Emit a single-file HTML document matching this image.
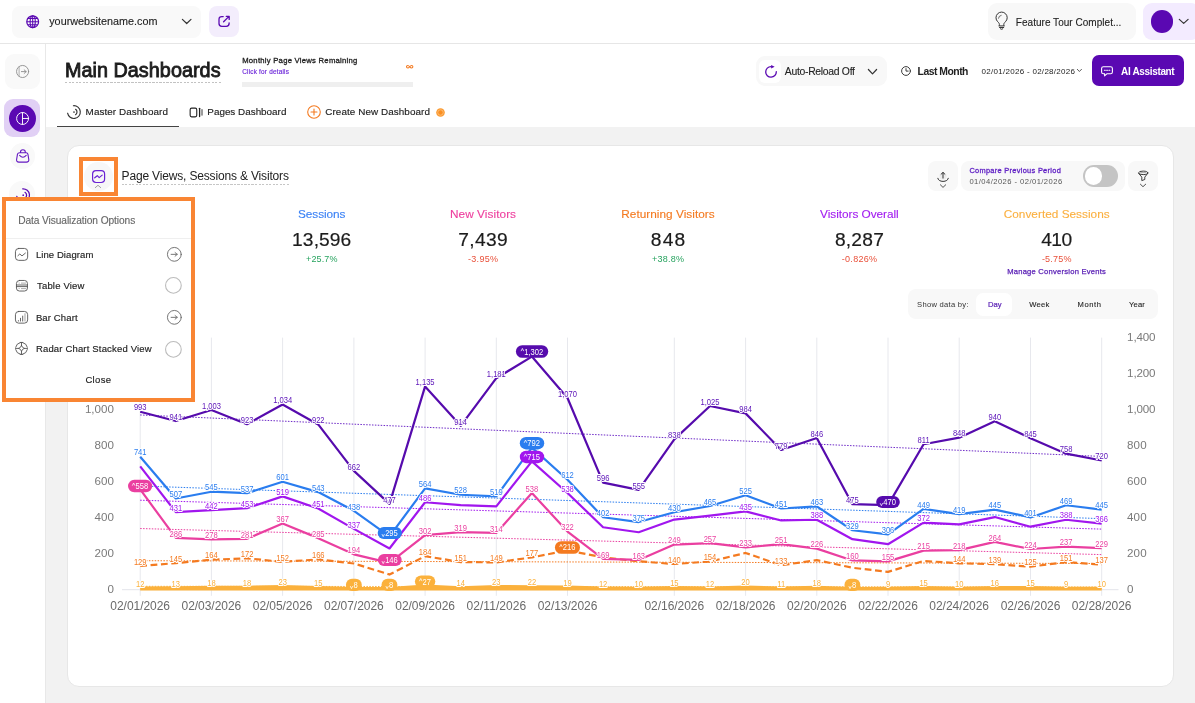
<!DOCTYPE html>
<html><head><meta charset="utf-8"><title>Main Dashboards</title>
<style>
html,body{margin:0;padding:0;}
body{width:1195px;height:703px;overflow:hidden;background:#fff;position:relative;font-family:"Liberation Sans",sans-serif;}
.t{position:absolute;white-space:nowrap;margin:0;padding:0;}
.b{position:absolute;box-sizing:border-box;}
svg{overflow:visible;}
svg text{font-family:"Liberation Sans",sans-serif;}
#root{position:absolute;left:0;top:0;width:1195px;height:703px;overflow:hidden;will-change:transform;}
</style></head><body><div id="root">
<div class="b" style="left:46.20px;top:127.10px;width:1148.80px;height:575.90px;background:#f2f2f2;border-radius:0px;"></div>
<div class="b" style="left:0.00px;top:43.30px;width:1195.00px;height:1.00px;background:#e6e6e6;border-radius:0px;"></div>
<div class="b" style="left:45.20px;top:44.00px;width:1.00px;height:659.00px;background:#e8e8e8;border-radius:0px;"></div>
<div class="b" style="left:11.70px;top:5.70px;width:189.20px;height:32.60px;background:#f9f9f9;border-radius:8px;"></div>
<svg class="b" style="left:25.80px;top:14.80px;" width="13.4" height="13.4" viewBox="0 0 13.4 13.4" fill="none"><g stroke="#5a08b2" stroke-width="1.25"><circle cx="6.7" cy="6.7" r="5.9"/><ellipse cx="6.7" cy="6.7" rx="2.6" ry="5.9" stroke-width="1.1"/><path d="M0.8 6.7H12.6M6.7 0.8V12.6M1.8 3.6H11.6M1.8 9.8H11.6" stroke-width="1.05"/></g></svg>
<div class="t" style="left:49.20px;top:13px;font-size:10.8px;line-height:16px;height:16px;color:#222;letter-spacing:0.019px;-webkit-text-stroke:0.12px #222;">yourwebsitename.com</div>
<svg class="b" style="left:181.90px;top:19.10px;" width="9.4" height="5" viewBox="0 0 9.4 5" fill="none"><path d="M0.4 0.4L4.7 4.5L9 0.4" stroke="#333" stroke-width="1.2" stroke-linecap="round" stroke-linejoin="round"/></svg>
<div class="b" style="left:209.00px;top:6.40px;width:30.10px;height:30.30px;background:#f3edfc;border-radius:8px;"></div>
<svg class="b" style="left:218.00px;top:15.00px;" width="12.5" height="12.5" viewBox="0 0 12.5 12.5" fill="none"><g stroke="#5a08b2" stroke-width="1.3" stroke-linecap="round" stroke-linejoin="round"><path d="M5.2 1.6H3.8Q1 1.6 1 4.4V8.6Q1 11.4 3.8 11.4H8.3Q11.1 11.4 11.1 8.6V7.8"/><path d="M5.6 6.8L11 1.4M8.3 1.4H11.2V4.4"/></g></svg>
<div class="b" style="left:987.50px;top:2.80px;width:148.50px;height:37.60px;background:#f8f8f8;border-radius:9px;"></div>
<svg class="b" style="left:995.30px;top:12.30px;" width="13.2" height="18" viewBox="0 0 13.2 18" fill="none"><g stroke="#333" stroke-width="1" stroke-linecap="round" stroke-linejoin="round"><path d="M4.4 13.4V12.6C4.4 11.2 3.5 10.5 2.7 9.7A5.6 5.6 0 1 1 10.5 9.7C9.7 10.5 8.8 11.2 8.8 12.6V13.4"/><path d="M3.9 13.9H9.3M4.5 15.5H8.7M5.4 16.9A1.6 1.2 0 0 0 7.8 16.9"/><path d="M3.5 6.2A3.2 3.2 0 0 1 6.2 3.3" stroke-width="0.7"/></g></svg>
<div class="t" style="left:1015.80px;top:15px;font-size:10px;line-height:15px;height:15px;color:#222;letter-spacing:0.033px;-webkit-text-stroke:0.1px #222;">Feature Tour Complet...</div>
<div class="b" style="left:1142.80px;top:2.80px;width:57.20px;height:37.60px;background:#f3ebff;border-radius:9px;"></div>
<div class="b" style="left:1150.7px;top:10px;width:22.6px;height:22.6px;border-radius:50%;background:#5a08b2"></div>
<svg class="b" style="left:1178.60px;top:19.20px;" width="9.4" height="5" viewBox="0 0 9.4 5" fill="none"><path d="M0.3 0.4L4.7 4.4L9.1 0.4" stroke="#333" stroke-width="1.2" stroke-linecap="round" stroke-linejoin="round"/></svg>
<div class="b" style="left:5.10px;top:54.10px;width:34.80px;height:34.70px;background:#f9f9f9;border-radius:9px;"></div>
<svg class="b" style="left:15.80px;top:64.90px;" width="13.2" height="13" viewBox="0 0 13.2 13" fill="none"><g stroke="#8c8c8c" stroke-width="0.9" stroke-linecap="round" stroke-linejoin="round"><circle cx="6.6" cy="6.5" r="6.05"/><path d="M3.1 1.6V11.4" stroke="#a5a5a5"/><path d="M5.4 6.6H10.1M8.2 4.9L10.2 6.6L8.2 8.4"/></g></svg>
<div class="b" style="left:4.30px;top:99.00px;width:36.10px;height:38.10px;background:#e1d0f5;border-radius:9px;"></div>
<div class="b" style="left:9.1px;top:104.8px;width:26.6px;height:26.8px;border-radius:50%;background:#5a08b2"></div>
<svg class="b" style="left:15.90px;top:111.80px;" width="13.2" height="13.2" viewBox="0 0 13.2 13.2" fill="none"><g stroke="#fff" stroke-width="0.95" stroke-linecap="round"><circle cx="6.6" cy="6.5" r="6"/><path d="M6.5 0.6V12.4M6.6 6.5H12.5"/></g></svg>
<div class="b" style="left:9.7px;top:143.4px;width:25.6px;height:25.6px;border-radius:50%;background:#f9f9f9"></div>
<svg class="b" style="left:15.60px;top:148.80px;" width="13.8" height="14" viewBox="0 0 13.8 14" fill="none"><g stroke="#6418c2" stroke-width="1.1" stroke-linecap="round" stroke-linejoin="round"><path d="M3.6 3.7h6.6q1.4 0 1.7 1.4l0.9 5.4q0.3 2.6-2.3 2.6H2.9q-2.6 0-2.3-2.6l0.9-5.4Q1.9 3.7 3.6 3.7z"/><path d="M4.5 3.5V2.9a2.4 2.2 0 0 1 4.8 0v0.6"/><path d="M3.6 6.4q3.3 3.6 6.6 0"/></g></svg>
<div class="b" style="left:9.4px;top:180.7px;width:26px;height:26px;border-radius:50%;background:#f9f9f9"></div>
<svg class="b" style="left:15.60px;top:188.00px;" width="14.4" height="14.4" viewBox="0 0 14.4 14.4" fill="none"><g stroke="#5a08b2" stroke-width="1.25" stroke-linecap="round"><path d="M9 4.3a3.4 3.4 0 0 1 0 5.8"/><path d="M6.7 0.8a6.4 6.4 0 1 1-5.9 7.6"/><circle cx="7.2" cy="7.2" r="0.85" fill="#5a08b2" stroke="none"/></g></svg>
<div class="t" style="left:64.90px;top:57px;font-size:19.8px;line-height:26px;height:26px;color:#1c1c1c;letter-spacing:0.044px;-webkit-text-stroke:0.85px #1c1c1c;">Main Dashboards</div>
<div class="b" style="left:65px;top:81.8px;width:156px;height:1px;background:repeating-linear-gradient(90deg,#c2c2c2 0 2px,transparent 2px 3.5px)"></div>
<div class="t" style="left:242.20px;top:54px;font-size:7.7px;line-height:13px;height:13px;color:#222;letter-spacing:0.249px;-webkit-text-stroke:0.3px #222;">Monthly Page Views Remaining</div>
<div class="t" style="left:242.20px;top:66px;font-size:6.4px;line-height:11px;height:11px;color:#6d28d9;letter-spacing:0.213px;-webkit-text-stroke:0.15px #6d28d9;">Click for details</div>
<svg class="b" style="left:406.00px;top:64.60px;" width="7.4" height="3.6" viewBox="0 0 7.4 3.6" fill="none"><path d="M3.7 1.8C2.9 0.7 2.3 0.5 1.8 0.5a1.3 1.3 0 0 0 0 2.6c0.5 0 1.1-0.2 1.9-1.3c0.8-1.1 1.4-1.3 1.9-1.3a1.3 1.3 0 0 1 0 2.6c-0.5 0-1.1-0.2-1.9-1.3z" stroke="#f47a20" stroke-width="1.05"/></svg>
<div class="b" style="left:242.00px;top:81.50px;width:171.00px;height:5.00px;background:#efefef;border-radius:0px;"></div>
<svg class="b" style="left:66.60px;top:105.20px;" width="14" height="14" viewBox="0 0 14 14" fill="none"><g stroke="#333" stroke-width="1.15" stroke-linecap="round"><path d="M8.6 4.3a3.3 3.3 0 0 1 0 5.4"/><path d="M6.4 0.7a6.4 6.4 0 1 1-5.8 7.5"/><circle cx="7" cy="7" r="0.85" fill="#333" stroke="none"/></g></svg>
<div class="t" style="left:85.60px;top:104px;font-size:9.9px;line-height:15px;height:15px;color:#222;letter-spacing:0.071px;-webkit-text-stroke:0.15px #222;">Master Dashboard</div>
<div class="b" style="left:57.00px;top:126.10px;width:122.20px;height:1.00px;background:#444;border-radius:0px;"></div>
<svg class="b" style="left:189.00px;top:106.70px;" width="14" height="11" viewBox="0 0 14 11" fill="none"><g stroke="#222" stroke-linecap="round"><rect x="1.15" y="1.15" width="6.6" height="8.7" rx="1.5" stroke-width="1.1"/><path d="M10.6 1.3V9.5" stroke-width="1.3"/><path d="M13 2.6V8.2" stroke-width="0.9"/></g></svg>
<div class="t" style="left:207.30px;top:104px;font-size:9.9px;line-height:15px;height:15px;color:#222;letter-spacing:0.003px;-webkit-text-stroke:0.15px #222;">Pages Dashboard</div>
<svg class="b" style="left:306.70px;top:105.00px;" width="14" height="14" viewBox="0 0 14 14" fill="none"><g stroke="#f47a20" stroke-width="1.1" stroke-linecap="round"><circle cx="7" cy="7" r="6.3"/><path d="M7 4v6M4 7h6"/></g></svg>
<div class="t" style="left:325.30px;top:104px;font-size:9.9px;line-height:15px;height:15px;color:#222;letter-spacing:0.076px;-webkit-text-stroke:0.15px #222;">Create New Dashboard</div>
<svg class="b" style="left:435.80px;top:107.50px;" width="9" height="9" viewBox="0 0 9 9" fill="none"><circle cx="4.5" cy="4.5" r="4.3" fill="#fb9a30"/><circle cx="4.5" cy="4.5" r="2.7" fill="#fa8f22" stroke="#fdc88c" stroke-width="0.7"/></svg>
<div class="b" style="left:755.60px;top:56.00px;width:131.40px;height:30.00px;background:#f8f8f8;border-radius:9px;"></div>
<div class="b" style="left:759.00px;top:59.60px;width:22.40px;height:23.00px;background:#ffffff;border-radius:6px;"></div>
<svg class="b" style="left:764.50px;top:64.50px;" width="12.5" height="13" viewBox="0 0 12.5 13" fill="none"><path d="M11.3 6.7A5.3 5.3 0 1 1 6.1 1.6" stroke="#5a08b2" stroke-width="1.3" stroke-linecap="round"/><path d="M6.1 0V3.5L9.6 1.75Z" fill="#5a08b2"/></svg>
<div class="t" style="left:784.80px;top:64px;font-size:10.4px;line-height:15px;height:15px;color:#222;letter-spacing:-0.299px;-webkit-text-stroke:0.1px #222;">Auto-Reload Off</div>
<svg class="b" style="left:867.60px;top:68.50px;" width="9" height="5.5" viewBox="0 0 9 5.5" fill="none"><path d="M0.4 0.5L4.5 4.8L8.6 0.5" stroke="#333" stroke-width="1.2" stroke-linecap="round" stroke-linejoin="round"/></svg>
<svg class="b" style="left:900.50px;top:66.00px;" width="10" height="10" viewBox="0 0 10 10" fill="none"><g stroke="#333" stroke-width="0.95" stroke-linecap="round"><circle cx="5" cy="5" r="4.4"/><path d="M5 2.6V5.1H7.2"/></g></svg>
<div class="t" style="left:917.60px;top:64px;font-size:10.4px;line-height:15px;height:15px;color:#222;letter-spacing:-0.507px;font-weight:bold;">Last Month</div>
<div class="t" style="left:981.60px;top:65px;font-size:8px;line-height:13px;height:13px;color:#222;letter-spacing:0.282px;">02/01/2026 - 02/28/2026</div>
<svg class="b" style="left:1076.60px;top:69.30px;" width="4.8" height="3" viewBox="0 0 4.8 3" fill="none"><path d="M0.3 0.3L2.4 2.5L4.5 0.3" stroke="#333" stroke-width="0.8" stroke-linecap="round" stroke-linejoin="round"/></svg>
<div class="b" style="left:1092.20px;top:55.20px;width:92.00px;height:30.70px;background:#5a08b2;border-radius:7px;"></div>
<svg class="b" style="left:1101.00px;top:65.50px;" width="12" height="10.5" viewBox="0 0 12 10.5" fill="none"><g stroke="#fff" stroke-width="1.1" stroke-linecap="round" stroke-linejoin="round"><path d="M2.4 0.7h7.2q1.8 0 1.8 1.8v3.4q0 1.8-1.8 1.8H6.1L3.6 9.8V7.7H2.4q-1.8 0-1.8-1.8V2.5q0-1.8 1.8-1.8z"/><path d="M3.4 4.2h0.9M5.6 4.2h0.9M7.9 4.2h0.9"/></g></svg>
<div class="t" style="left:1121.00px;top:64px;font-size:10px;line-height:15px;height:15px;color:#fff;letter-spacing:-0.338px;font-weight:bold;">AI Assistant</div>
<div class="b" style="left:67.00px;top:145.00px;width:1107.00px;height:542.00px;background:#ffffff;border-radius:12px;border:1px solid #e7e7e7;"></div>
<div class="b" style="left:84.1px;top:162.1px;width:28.6px;height:28.6px;border-radius:50%;background:#f7f7f7"></div>
<svg class="b" style="left:91.80px;top:169.80px;" width="13.2" height="13.1" viewBox="0 0 13.2 13.1" fill="none"><g stroke="#6a22d4" stroke-width="1.2" stroke-linecap="round" stroke-linejoin="round"><rect x="0.6" y="0.6" width="12" height="11.9" rx="3.4"/><path d="M2.7 7.8L5.3 5.7L7.2 7.6L10.2 5.1"/></g></svg>
<svg class="b" style="left:95.20px;top:184.80px;" width="6" height="2.9" viewBox="0 0 6 2.9" fill="none"><path d="M0.3 2.6L3 0.3L5.7 2.6" stroke="#8a8a8a" stroke-width="0.8" stroke-linecap="round" stroke-linejoin="round"/></svg>
<div class="b" style="left:79px;top:157px;width:39px;height:39px;border:4px solid #f98533"></div>
<div class="t" style="left:121.60px;top:167px;font-size:12px;line-height:18px;height:18px;color:#222;letter-spacing:-0.167px;">Page Views, Sessions &amp; Visitors</div>
<div class="b" style="left:121.5px;top:183.5px;width:167.5px;height:1px;background:repeating-linear-gradient(90deg,#c6c6c6 0 2px,transparent 2px 3.5px)"></div>
<div class="b" style="left:928.30px;top:161.20px;width:29.90px;height:29.90px;background:#f8f8f8;border-radius:8px;"></div>
<svg class="b" style="left:937.30px;top:169.00px;" width="12" height="19.5" viewBox="0 0 12 19.5" fill="none"><circle cx="6" cy="7.2" r="3.6" fill="#ececec"/><g stroke="#333" stroke-width="1" stroke-linecap="round" stroke-linejoin="round"><path d="M6 9.1V3.6M4.1 5.2L6 3.4L7.9 5.2"/><path d="M0.8 9.3A5.25 3.1 0 0 0 11.3 9.3"/><path d="M3.4 15.8L6 18.4L8.7 15.8" stroke-width="0.85"/></g></svg>
<div class="b" style="left:961.40px;top:161.20px;width:163.40px;height:29.90px;background:#f8f8f8;border-radius:8px;"></div>
<div class="t" style="left:969.40px;top:164px;font-size:7.4px;line-height:13px;height:13px;color:#5f1fc4;letter-spacing:0.308px;-webkit-text-stroke:0.3px #5f1fc4;">Compare Previous Period</div>
<div class="t" style="left:969.40px;top:175px;font-size:7.6px;line-height:13px;height:13px;color:#555;letter-spacing:0.453px;">01/04/2026 - 02/01/2026</div>
<div class="b" style="left:1082.90px;top:165.20px;width:34.90px;height:21.80px;background:#c4c4c4;border-radius:11px;"></div>
<div class="b" style="left:1084.7px;top:167.4px;width:17.6px;height:17.6px;border-radius:50%;background:#fff"></div>
<div class="b" style="left:1127.80px;top:161.20px;width:30.20px;height:29.90px;background:#f8f8f8;border-radius:8px;"></div>
<svg class="b" style="left:1137.70px;top:169.30px;" width="10.6" height="18.5" viewBox="0 0 10.6 18.5" fill="none"><g stroke="#333" stroke-width="0.95" stroke-linecap="round" stroke-linejoin="round"><ellipse cx="5.2" cy="3.85" rx="4.6" ry="1.75"/><path d="M2.6 3.6H7.8" stroke-width="0.6" stroke="#777"/><path d="M0.7 4.4L3.8 8.1V11.6L6.8 10.5V8.1L9.7 4.4"/><path d="M2.4 15.2L5 17.7L7.7 15.2" stroke-width="0.85"/></g></svg>
<div class="t" style="left:298.10px;top:205px;font-size:11.8px;line-height:18px;height:18px;color:#3b82f6;letter-spacing:-0.097px;-webkit-text-stroke:0.12px #3b82f6;">Sessions</div>
<div class="t" style="left:292.10px;top:227px;font-size:19.2px;line-height:25px;height:25px;color:#1c1c1c;letter-spacing:0.095px;-webkit-text-stroke:0.2px #1c1c1c;">13,596</div>
<div class="t" style="left:306.00px;top:252px;font-size:9px;line-height:14px;height:14px;color:#27a35f;letter-spacing:0.125px;">+25.7%</div>
<div class="t" style="left:449.95px;top:205px;font-size:11.8px;line-height:18px;height:18px;color:#ee3f9e;letter-spacing:0.068px;-webkit-text-stroke:0.12px #ee3f9e;">New Visitors</div>
<div class="t" style="left:458.25px;top:227px;font-size:19.2px;line-height:25px;height:25px;color:#1c1c1c;letter-spacing:0.363px;-webkit-text-stroke:0.2px #1c1c1c;">7,439</div>
<div class="t" style="left:468.05px;top:252px;font-size:9px;line-height:14px;height:14px;color:#e9503a;letter-spacing:0.277px;">-3.95%</div>
<div class="t" style="left:621.30px;top:205px;font-size:11.8px;line-height:18px;height:18px;color:#f47a20;letter-spacing:0.028px;-webkit-text-stroke:0.12px #f47a20;">Returning Visitors</div>
<div class="t" style="left:650.80px;top:227px;font-size:19.2px;line-height:25px;height:25px;color:#1c1c1c;letter-spacing:1.182px;-webkit-text-stroke:0.2px #1c1c1c;">848</div>
<div class="t" style="left:651.95px;top:252px;font-size:9px;line-height:14px;height:14px;color:#27a35f;letter-spacing:0.265px;">+38.8%</div>
<div class="t" style="left:820.10px;top:205px;font-size:11.8px;line-height:18px;height:18px;color:#a21cf0;letter-spacing:-0.035px;-webkit-text-stroke:0.12px #a21cf0;">Visitors Overall</div>
<div class="t" style="left:834.90px;top:227px;font-size:19.2px;line-height:25px;height:25px;color:#1c1c1c;letter-spacing:0.238px;-webkit-text-stroke:0.2px #1c1c1c;">8,287</div>
<div class="t" style="left:841.70px;top:252px;font-size:9px;line-height:14px;height:14px;color:#e9503a;letter-spacing:0.313px;">-0.826%</div>
<div class="t" style="left:1003.75px;top:205px;font-size:11.8px;line-height:18px;height:18px;color:#fbb040;letter-spacing:0.017px;-webkit-text-stroke:0.12px #fbb040;">Converted Sessions</div>
<div class="t" style="left:1041.15px;top:227px;font-size:19.2px;line-height:25px;height:25px;color:#1c1c1c;letter-spacing:-0.468px;-webkit-text-stroke:0.2px #1c1c1c;">410</div>
<div class="t" style="left:1041.90px;top:252px;font-size:9px;line-height:14px;height:14px;color:#e9503a;letter-spacing:0.217px;">-5.75%</div>
<div class="t" style="left:1007.20px;top:265px;font-size:7.6px;line-height:13px;height:13px;color:#5b21b6;letter-spacing:0.232px;-webkit-text-stroke:0.25px #5b21b6;">Manage Conversion Events</div>
<div class="b" style="left:908.00px;top:289.40px;width:250.10px;height:29.90px;background:#f8f8f8;border-radius:8px;"></div>
<div class="t" style="left:917.10px;top:298px;font-size:7.6px;line-height:13px;height:13px;color:#333;letter-spacing:0.278px;">Show data by:</div>
<div class="b" style="left:975.80px;top:292.70px;width:36.70px;height:23.10px;background:#ffffff;border-radius:7px;"></div>
<div class="t" style="left:987.90px;top:298px;font-size:7.6px;line-height:13px;height:13px;color:#5b21b6;letter-spacing:0.042px;-webkit-text-stroke:0.2px #5b21b6;">Day</div>
<div class="t" style="left:1029.30px;top:298px;font-size:7.6px;line-height:13px;height:13px;color:#222;letter-spacing:0.270px;-webkit-text-stroke:0.1px #222;">Week</div>
<div class="t" style="left:1077.50px;top:298px;font-size:7.6px;line-height:13px;height:13px;color:#222;letter-spacing:0.569px;-webkit-text-stroke:0.1px #222;">Month</div>
<div class="t" style="left:1129.00px;top:298px;font-size:7.6px;line-height:13px;height:13px;color:#222;letter-spacing:0.148px;-webkit-text-stroke:0.1px #222;">Year</div>
<svg class="b" style="left:0;top:0" width="1195" height="703" viewBox="0 0 1195 703" fill="none"><path d="M140.2 337.6V595.8" stroke="#e7e8ed" stroke-width="1"/>
<path d="M211.4 337.6V595.8" stroke="#e7e8ed" stroke-width="1"/>
<path d="M282.6 337.6V595.8" stroke="#e7e8ed" stroke-width="1"/>
<path d="M353.9 337.6V595.8" stroke="#e7e8ed" stroke-width="1"/>
<path d="M425.1 337.6V595.8" stroke="#e7e8ed" stroke-width="1"/>
<path d="M496.3 337.6V595.8" stroke="#e7e8ed" stroke-width="1"/>
<path d="M567.5 337.6V595.8" stroke="#e7e8ed" stroke-width="1"/>
<path d="M674.3 337.6V595.8" stroke="#e7e8ed" stroke-width="1"/>
<path d="M745.6 337.6V595.8" stroke="#e7e8ed" stroke-width="1"/>
<path d="M816.8 337.6V595.8" stroke="#e7e8ed" stroke-width="1"/>
<path d="M888.0 337.6V595.8" stroke="#e7e8ed" stroke-width="1"/>
<path d="M959.2 337.6V595.8" stroke="#e7e8ed" stroke-width="1"/>
<path d="M1030.5 337.6V595.8" stroke="#e7e8ed" stroke-width="1"/>
<path d="M1101.7 337.6V595.8" stroke="#e7e8ed" stroke-width="1"/>
<path d="M122 589.7H1118.5" stroke="#e3e4ea" stroke-width="1"/>
<text x="113.9" y="593.2" font-size="11.6" fill="#7a7a7a" text-anchor="end">0</text>
<text x="1127.1" y="593.2" font-size="11.6" fill="#7a7a7a" textLength="6.6">0</text>
<text x="113.9" y="557.2" font-size="11.6" fill="#7a7a7a" text-anchor="end">200</text>
<text x="1127.1" y="557.2" font-size="11.6" fill="#7a7a7a" textLength="19.5">200</text>
<text x="113.9" y="521.1" font-size="11.6" fill="#7a7a7a" text-anchor="end">400</text>
<text x="1127.1" y="521.1" font-size="11.6" fill="#7a7a7a" textLength="19.5">400</text>
<text x="113.9" y="485.1" font-size="11.6" fill="#7a7a7a" text-anchor="end">600</text>
<text x="1127.1" y="485.1" font-size="11.6" fill="#7a7a7a" textLength="19.5">600</text>
<text x="113.9" y="449.0" font-size="11.6" fill="#7a7a7a" text-anchor="end">800</text>
<text x="1127.1" y="449.0" font-size="11.6" fill="#7a7a7a" textLength="19.5">800</text>
<text x="113.9" y="413.0" font-size="11.6" fill="#7a7a7a" text-anchor="end">1,000</text>
<text x="1127.1" y="413.0" font-size="11.6" fill="#7a7a7a" textLength="28.4">1,000</text>
<text x="1127.1" y="376.9" font-size="11.6" fill="#7a7a7a" textLength="28.4">1,200</text>
<text x="1127.1" y="340.9" font-size="11.6" fill="#7a7a7a" textLength="28.4">1,400</text>
<text x="140.2" y="610.1" font-size="12" fill="#6a6a6a" text-anchor="middle" textLength="59.7">02/01/2026</text>
<text x="211.4" y="610.1" font-size="12" fill="#6a6a6a" text-anchor="middle" textLength="59.7">02/03/2026</text>
<text x="282.6" y="610.1" font-size="12" fill="#6a6a6a" text-anchor="middle" textLength="59.7">02/05/2026</text>
<text x="353.9" y="610.1" font-size="12" fill="#6a6a6a" text-anchor="middle" textLength="59.7">02/07/2026</text>
<text x="425.1" y="610.1" font-size="12" fill="#6a6a6a" text-anchor="middle" textLength="59.7">02/09/2026</text>
<text x="496.3" y="610.1" font-size="12" fill="#6a6a6a" text-anchor="middle" textLength="59.7">02/11/2026</text>
<text x="567.5" y="610.1" font-size="12" fill="#6a6a6a" text-anchor="middle" textLength="59.7">02/13/2026</text>
<text x="674.3" y="610.1" font-size="12" fill="#6a6a6a" text-anchor="middle" textLength="59.7">02/16/2026</text>
<text x="745.6" y="610.1" font-size="12" fill="#6a6a6a" text-anchor="middle" textLength="59.7">02/18/2026</text>
<text x="816.8" y="610.1" font-size="12" fill="#6a6a6a" text-anchor="middle" textLength="59.7">02/20/2026</text>
<text x="888.0" y="610.1" font-size="12" fill="#6a6a6a" text-anchor="middle" textLength="59.7">02/22/2026</text>
<text x="959.2" y="610.1" font-size="12" fill="#6a6a6a" text-anchor="middle" textLength="59.7">02/24/2026</text>
<text x="1030.5" y="610.1" font-size="12" fill="#6a6a6a" text-anchor="middle" textLength="59.7">02/26/2026</text>
<text x="1101.7" y="610.1" font-size="12" fill="#6a6a6a" text-anchor="middle" textLength="59.7">02/28/2026</text>
<path d="M140.2 586.3L1101.7 587.0" stroke="#fbb13c" stroke-width="1" stroke-dasharray="1.5 1.4"/>
<path d="M140.2 587.50L175.8 587.38L211.4 586.75L247.0 586.75L282.6 586.12L318.2 587.12L353.9 588.00L389.5 588.00L425.1 585.62L460.7 587.25L496.3 586.12L531.9 586.25L567.5 586.62L603.1 587.50L638.7 587.75L674.3 587.12L710.0 587.50L745.6 586.50L781.2 587.62L816.8 586.75L852.4 588.00L888.0 587.88L923.6 587.12L959.2 587.75L994.8 587.00L1030.5 587.12L1066.1 587.88L1101.7 587.75L1101.7 590.4L140.2 590.4Z" fill="#fbb13c"/>
<path d="M140.2 587.50L175.8 587.38L211.4 586.75L247.0 586.75L282.6 586.12L318.2 587.12L353.9 588.00L389.5 588.00L425.1 585.62L460.7 587.25L496.3 586.12L531.9 586.25L567.5 586.62L603.1 587.50L638.7 587.75L674.3 587.12L710.0 587.50L745.6 586.50L781.2 587.62L816.8 586.75L852.4 588.00L888.0 587.88L923.6 587.12L959.2 587.75L994.8 587.00L1030.5 587.12L1066.1 587.88L1101.7 587.75" stroke="#fbb13c" stroke-width="2.2" stroke-linejoin="round" stroke-linecap="butt"/>
<path d="M140.2 560.69L1101.7 563.51" stroke="#f47a20" stroke-width="1" stroke-dasharray="1.5 1.4"/>
<path d="M140.2 528.53L1101.7 554.61" stroke="#ea3fa0" stroke-width="1" stroke-dasharray="1.5 1.4"/>
<path d="M140.2 500.22L1101.7 529.12" stroke="#a116ee" stroke-width="1" stroke-dasharray="1.5 1.4"/>
<path d="M140.2 486.00L1101.7 518.65" stroke="#2a7def" stroke-width="1" stroke-dasharray="1.5 1.4"/>
<path d="M140.2 414.96L1101.7 456.44" stroke="#6f2cc8" stroke-width="1" stroke-dasharray="1.5 1.4"/>
<path d="M140.2 565.97L175.8 563.12L211.4 559.73L247.0 558.30L282.6 561.87L318.2 559.37L353.9 563.47L389.5 574.54L425.1 556.16L460.7 562.05L496.3 562.40L531.9 557.41L567.5 550.44L603.1 557.41L638.7 561.33L674.3 564.01L710.0 561.51L745.6 552.94L781.2 565.26L816.8 560.08L852.4 567.76L888.0 571.86L923.6 560.98L959.2 563.30L994.8 564.19L1030.5 566.69L1066.1 562.05L1101.7 564.55" stroke="#f47a20" stroke-width="2.2" stroke-linejoin="round" stroke-linecap="butt" stroke-dasharray="6.8 3.6"/>
<path d="M140.2 489.40L175.8 537.95L211.4 539.38L247.0 538.84L282.6 523.49L318.2 538.13L353.9 554.37L389.5 562.94L425.1 535.09L460.7 532.06L496.3 532.95L531.9 492.97L567.5 531.52L603.1 558.83L638.7 559.90L674.3 544.55L710.0 543.13L745.6 547.41L781.2 544.20L816.8 548.66L852.4 560.44L888.0 561.33L923.6 550.62L959.2 550.09L994.8 541.88L1030.5 549.02L1066.1 546.70L1101.7 548.12" stroke="#ea3fa0" stroke-width="2.2" stroke-linejoin="round" stroke-linecap="butt"/>
<path d="M140.2 466.37L175.8 512.07L211.4 510.10L247.0 508.14L282.6 496.36L318.2 508.50L353.9 528.85L389.5 548.48L425.1 502.25L460.7 505.11L496.3 506.35L531.9 461.37L567.5 492.97L603.1 527.24L638.7 532.24L674.3 519.56L710.0 515.64L745.6 511.35L781.2 520.46L816.8 519.74L852.4 539.20L888.0 544.20L923.6 522.60L959.2 524.38L994.8 517.06L1030.5 526.70L1066.1 519.74L1101.7 523.67" stroke="#a116ee" stroke-width="2.2" stroke-linejoin="round" stroke-linecap="butt"/>
<path d="M140.2 456.73L175.8 498.50L211.4 491.72L247.0 493.15L282.6 481.72L318.2 492.07L353.9 510.82L389.5 536.34L425.1 488.33L460.7 494.75L496.3 496.36L531.9 447.63L567.5 479.76L603.1 517.24L638.7 522.06L674.3 512.25L710.0 506.00L745.6 495.29L781.2 508.50L816.8 506.35L852.4 530.27L888.0 534.38L923.6 508.85L959.2 514.21L994.8 509.57L1030.5 517.42L1066.1 505.28L1101.7 509.57" stroke="#2a7def" stroke-width="2.2" stroke-linejoin="round" stroke-linecap="butt"/>
<path d="M140.2 411.75L175.8 421.03L211.4 409.96L247.0 424.24L282.6 404.43L318.2 424.42L353.9 470.83L389.5 503.86L425.1 386.40L460.7 425.85L496.3 378.19L531.9 356.59L567.5 398.00L603.1 482.61L638.7 489.93L674.3 439.42L710.0 406.04L745.6 413.36L781.2 449.95L816.8 437.99L852.4 504.21L888.0 505.11L923.6 444.24L959.2 437.63L994.8 421.21L1030.5 438.17L1066.1 453.70L1101.7 460.48" stroke="#560bad" stroke-width="2.2" stroke-linejoin="round" stroke-linecap="butt"/>
<g font-size="8.3" text-anchor="middle" stroke="#fff" stroke-width="1.8" stroke-linejoin="round" style="paint-order:stroke"><text transform="translate(140.20 410.45) scale(0.915 1)" fill="#5b12b8">993</text><text transform="translate(175.81 419.73) scale(0.915 1)" fill="#5b12b8">941</text><text transform="translate(211.42 408.66) scale(0.915 1)" fill="#5b12b8">1,003</text><text transform="translate(247.03 422.94) scale(0.915 1)" fill="#5b12b8">923</text><text transform="translate(282.64 403.13) scale(0.915 1)" fill="#5b12b8">1,034</text><text transform="translate(318.25 423.12) scale(0.915 1)" fill="#5b12b8">922</text><text transform="translate(353.86 469.53) scale(0.915 1)" fill="#5b12b8">662</text><text transform="translate(389.47 502.56) scale(0.915 1)" fill="#5b12b8">477</text><text transform="translate(425.08 385.10) scale(0.915 1)" fill="#5b12b8">1,135</text><text transform="translate(460.69 424.55) scale(0.915 1)" fill="#5b12b8">914</text><text transform="translate(496.30 376.89) scale(0.915 1)" fill="#5b12b8">1,181</text><text transform="translate(567.52 396.70) scale(0.915 1)" fill="#5b12b8">1,070</text><text transform="translate(603.13 481.31) scale(0.915 1)" fill="#5b12b8">596</text><text transform="translate(638.74 488.63) scale(0.915 1)" fill="#5b12b8">555</text><text transform="translate(674.35 438.12) scale(0.915 1)" fill="#5b12b8">838</text><text transform="translate(709.96 404.74) scale(0.915 1)" fill="#5b12b8">1,025</text><text transform="translate(745.57 412.06) scale(0.915 1)" fill="#5b12b8">984</text><text transform="translate(781.18 448.65) scale(0.915 1)" fill="#5b12b8">779</text><text transform="translate(816.79 436.69) scale(0.915 1)" fill="#5b12b8">846</text><text transform="translate(852.40 502.91) scale(0.915 1)" fill="#5b12b8">475</text><text transform="translate(923.62 442.94) scale(0.915 1)" fill="#5b12b8">811</text><text transform="translate(959.23 436.33) scale(0.915 1)" fill="#5b12b8">848</text><text transform="translate(994.84 419.91) scale(0.915 1)" fill="#5b12b8">940</text><text transform="translate(1030.45 436.87) scale(0.915 1)" fill="#5b12b8">845</text><text transform="translate(1066.06 452.40) scale(0.915 1)" fill="#5b12b8">758</text><text transform="translate(1101.67 459.18) scale(0.915 1)" fill="#5b12b8">720</text><text transform="translate(140.20 455.43) scale(0.915 1)" fill="#2a7def">741</text><text transform="translate(175.81 497.20) scale(0.915 1)" fill="#2a7def">507</text><text transform="translate(211.42 490.42) scale(0.915 1)" fill="#2a7def">545</text><text transform="translate(247.03 491.85) scale(0.915 1)" fill="#2a7def">537</text><text transform="translate(282.64 480.42) scale(0.915 1)" fill="#2a7def">601</text><text transform="translate(318.25 490.77) scale(0.915 1)" fill="#2a7def">543</text><text transform="translate(353.86 509.52) scale(0.915 1)" fill="#2a7def">438</text><text transform="translate(425.08 487.03) scale(0.915 1)" fill="#2a7def">564</text><text transform="translate(460.69 493.45) scale(0.915 1)" fill="#2a7def">528</text><text transform="translate(496.30 495.06) scale(0.915 1)" fill="#2a7def">519</text><text transform="translate(567.52 478.46) scale(0.915 1)" fill="#2a7def">612</text><text transform="translate(603.13 515.94) scale(0.915 1)" fill="#2a7def">402</text><text transform="translate(638.74 520.76) scale(0.915 1)" fill="#2a7def">375</text><text transform="translate(674.35 510.94) scale(0.915 1)" fill="#2a7def">430</text><text transform="translate(709.96 504.70) scale(0.915 1)" fill="#2a7def">465</text><text transform="translate(745.57 493.99) scale(0.915 1)" fill="#2a7def">525</text><text transform="translate(781.18 507.20) scale(0.915 1)" fill="#2a7def">451</text><text transform="translate(816.79 505.05) scale(0.915 1)" fill="#2a7def">463</text><text transform="translate(852.40 528.97) scale(0.915 1)" fill="#2a7def">329</text><text transform="translate(888.01 533.08) scale(0.915 1)" fill="#2a7def">306</text><text transform="translate(923.62 507.55) scale(0.915 1)" fill="#2a7def">449</text><text transform="translate(959.23 512.91) scale(0.915 1)" fill="#2a7def">419</text><text transform="translate(994.84 508.27) scale(0.915 1)" fill="#2a7def">445</text><text transform="translate(1030.45 516.12) scale(0.915 1)" fill="#2a7def">401</text><text transform="translate(1066.06 503.98) scale(0.915 1)" fill="#2a7def">469</text><text transform="translate(1101.67 508.27) scale(0.915 1)" fill="#2a7def">445</text><text transform="translate(175.81 536.65) scale(0.915 1)" fill="#ea3fa0">286</text><text transform="translate(211.42 538.08) scale(0.915 1)" fill="#ea3fa0">278</text><text transform="translate(247.03 537.54) scale(0.915 1)" fill="#ea3fa0">281</text><text transform="translate(282.64 522.19) scale(0.915 1)" fill="#ea3fa0">367</text><text transform="translate(318.25 536.83) scale(0.915 1)" fill="#ea3fa0">285</text><text transform="translate(353.86 553.07) scale(0.915 1)" fill="#ea3fa0">194</text><text transform="translate(425.08 533.79) scale(0.915 1)" fill="#ea3fa0">302</text><text transform="translate(460.69 530.76) scale(0.915 1)" fill="#ea3fa0">319</text><text transform="translate(496.30 531.65) scale(0.915 1)" fill="#ea3fa0">314</text><text transform="translate(531.91 491.67) scale(0.915 1)" fill="#ea3fa0">538</text><text transform="translate(567.52 530.22) scale(0.915 1)" fill="#ea3fa0">322</text><text transform="translate(603.13 557.53) scale(0.915 1)" fill="#ea3fa0">169</text><text transform="translate(638.74 558.60) scale(0.915 1)" fill="#ea3fa0">163</text><text transform="translate(674.35 543.25) scale(0.915 1)" fill="#ea3fa0">249</text><text transform="translate(709.96 541.83) scale(0.915 1)" fill="#ea3fa0">257</text><text transform="translate(745.57 546.11) scale(0.915 1)" fill="#ea3fa0">233</text><text transform="translate(781.18 542.90) scale(0.915 1)" fill="#ea3fa0">251</text><text transform="translate(816.79 547.36) scale(0.915 1)" fill="#ea3fa0">226</text><text transform="translate(852.40 559.14) scale(0.915 1)" fill="#ea3fa0">160</text><text transform="translate(888.01 560.03) scale(0.915 1)" fill="#ea3fa0">155</text><text transform="translate(923.62 549.32) scale(0.915 1)" fill="#ea3fa0">215</text><text transform="translate(959.23 548.79) scale(0.915 1)" fill="#ea3fa0">218</text><text transform="translate(994.84 540.58) scale(0.915 1)" fill="#ea3fa0">264</text><text transform="translate(1030.45 547.72) scale(0.915 1)" fill="#ea3fa0">224</text><text transform="translate(1066.06 545.40) scale(0.915 1)" fill="#ea3fa0">237</text><text transform="translate(1101.67 546.82) scale(0.915 1)" fill="#ea3fa0">229</text><text transform="translate(140.20 564.67) scale(0.915 1)" fill="#f47a20">129</text><text transform="translate(175.81 561.82) scale(0.915 1)" fill="#f47a20">145</text><text transform="translate(211.42 558.43) scale(0.915 1)" fill="#f47a20">164</text><text transform="translate(247.03 557.00) scale(0.915 1)" fill="#f47a20">172</text><text transform="translate(282.64 560.57) scale(0.915 1)" fill="#f47a20">152</text><text transform="translate(318.25 558.07) scale(0.915 1)" fill="#f47a20">166</text><text transform="translate(425.08 554.86) scale(0.915 1)" fill="#f47a20">184</text><text transform="translate(460.69 560.75) scale(0.915 1)" fill="#f47a20">151</text><text transform="translate(496.30 561.10) scale(0.915 1)" fill="#f47a20">149</text><text transform="translate(531.91 556.11) scale(0.915 1)" fill="#f47a20">177</text><text transform="translate(674.35 562.71) scale(0.915 1)" fill="#f47a20">140</text><text transform="translate(709.96 560.21) scale(0.915 1)" fill="#f47a20">154</text><text transform="translate(781.18 563.96) scale(0.915 1)" fill="#f47a20">133</text><text transform="translate(959.23 562.00) scale(0.915 1)" fill="#f47a20">144</text><text transform="translate(994.84 562.89) scale(0.915 1)" fill="#f47a20">139</text><text transform="translate(1030.45 565.39) scale(0.915 1)" fill="#f47a20">125</text><text transform="translate(1066.06 560.75) scale(0.915 1)" fill="#f47a20">151</text><text transform="translate(1101.67 563.25) scale(0.915 1)" fill="#f47a20">137</text><text transform="translate(140.20 586.76) scale(0.915 1)" fill="#fbb13c">12</text><text transform="translate(175.81 586.58) scale(0.915 1)" fill="#fbb13c">13</text><text transform="translate(211.42 585.69) scale(0.915 1)" fill="#fbb13c">18</text><text transform="translate(247.03 585.69) scale(0.915 1)" fill="#fbb13c">18</text><text transform="translate(282.64 584.79) scale(0.915 1)" fill="#fbb13c">23</text><text transform="translate(318.25 586.22) scale(0.915 1)" fill="#fbb13c">15</text><text transform="translate(460.69 586.40) scale(0.915 1)" fill="#fbb13c">14</text><text transform="translate(496.30 584.79) scale(0.915 1)" fill="#fbb13c">23</text><text transform="translate(531.91 584.97) scale(0.915 1)" fill="#fbb13c">22</text><text transform="translate(567.52 585.51) scale(0.915 1)" fill="#fbb13c">19</text><text transform="translate(603.13 586.76) scale(0.915 1)" fill="#fbb13c">12</text><text transform="translate(638.74 587.12) scale(0.915 1)" fill="#fbb13c">10</text><text transform="translate(674.35 586.22) scale(0.915 1)" fill="#fbb13c">15</text><text transform="translate(709.96 586.76) scale(0.915 1)" fill="#fbb13c">12</text><text transform="translate(745.57 585.33) scale(0.915 1)" fill="#fbb13c">20</text><text transform="translate(781.18 586.94) scale(0.915 1)" fill="#fbb13c">11</text><text transform="translate(816.79 585.69) scale(0.915 1)" fill="#fbb13c">18</text><text transform="translate(888.01 587.29) scale(0.915 1)" fill="#fbb13c">9</text><text transform="translate(923.62 586.22) scale(0.915 1)" fill="#fbb13c">15</text><text transform="translate(959.23 587.12) scale(0.915 1)" fill="#fbb13c">10</text><text transform="translate(994.84 586.04) scale(0.915 1)" fill="#fbb13c">16</text><text transform="translate(1030.45 586.22) scale(0.915 1)" fill="#fbb13c">15</text><text transform="translate(1066.06 587.29) scale(0.915 1)" fill="#fbb13c">9</text><text transform="translate(1101.67 587.12) scale(0.915 1)" fill="#fbb13c">10</text><text transform="translate(175.81 510.77) scale(0.915 1)" fill="#a116ee">431</text><text transform="translate(211.42 508.80) scale(0.915 1)" fill="#a116ee">442</text><text transform="translate(247.03 506.84) scale(0.915 1)" fill="#a116ee">453</text><text transform="translate(282.64 495.06) scale(0.915 1)" fill="#a116ee">519</text><text transform="translate(318.25 507.20) scale(0.915 1)" fill="#a116ee">451</text><text transform="translate(353.86 527.55) scale(0.915 1)" fill="#a116ee">337</text><text transform="translate(425.08 500.95) scale(0.915 1)" fill="#a116ee">486</text><text transform="translate(567.52 491.67) scale(0.915 1)" fill="#a116ee">538</text><text transform="translate(745.57 510.05) scale(0.915 1)" fill="#a116ee">435</text><text transform="translate(816.79 518.44) scale(0.915 1)" fill="#a116ee">388</text><text transform="translate(923.62 521.30) scale(0.915 1)" fill="#a116ee">372</text><text transform="translate(1066.06 518.44) scale(0.915 1)" fill="#a116ee">388</text><text transform="translate(1101.67 522.37) scale(0.915 1)" fill="#a116ee">366</text></g>
<rect x="515.90" y="345.25" width="32.30" height="12.6" rx="6.3" fill="#560bad"/><path d="M521.05 351.15l1.35-2.7l1.35 2.7" stroke="#fff" stroke-width="0.75" fill="none" stroke-linejoin="round"/><text transform="translate(524.25 354.50) scale(0.915 1)" font-size="8.3" fill="#fff">1,302</text><rect x="876.20" y="495.90" width="23.60" height="12.2" rx="6.1" fill="#560bad"/><path d="M880.16 503.20l1.25 2.5l1.25-2.5" stroke="#fff" stroke-width="0.75" fill="none" stroke-linejoin="round"/><text transform="translate(883.36 504.95) scale(0.915 1)" font-size="8.3" fill="#fff">470</text><rect x="519.80" y="437.00" width="24.40" height="12.4" rx="6.2" fill="#2a7def"/><path d="M524.16 442.80l1.35-2.7l1.35 2.7" stroke="#fff" stroke-width="0.75" fill="none" stroke-linejoin="round"/><text transform="translate(527.36 446.15) scale(0.915 1)" font-size="8.3" fill="#fff">792</text><rect x="377.70" y="526.90" width="24.20" height="12.0" rx="6.0" fill="#2a7def"/><path d="M381.96 534.10l1.25 2.5l1.25-2.5" stroke="#fff" stroke-width="0.75" fill="none" stroke-linejoin="round"/><text transform="translate(385.16 535.85) scale(0.915 1)" font-size="8.3" fill="#fff">295</text><rect x="519.80" y="450.75" width="24.40" height="12.4" rx="6.2" fill="#a116ee"/><path d="M524.16 456.55l1.35-2.7l1.35 2.7" stroke="#fff" stroke-width="0.75" fill="none" stroke-linejoin="round"/><text transform="translate(527.36 459.90) scale(0.915 1)" font-size="8.3" fill="#fff">715</text><rect x="128.00" y="479.85" width="24.20" height="12.5" rx="6.25" fill="#ea3fa0"/><path d="M132.26 485.70l1.35-2.7l1.35 2.7" stroke="#fff" stroke-width="0.75" fill="none" stroke-linejoin="round"/><text transform="translate(135.46 489.05) scale(0.915 1)" font-size="8.3" fill="#fff">558</text><rect x="377.90" y="553.90" width="23.80" height="12.0" rx="6.0" fill="#ea3fa0"/><path d="M381.96 561.10l1.25 2.5l1.25-2.5" stroke="#fff" stroke-width="0.75" fill="none" stroke-linejoin="round"/><text transform="translate(385.16 562.85) scale(0.915 1)" font-size="8.3" fill="#fff">146</text><rect x="554.90" y="541.15" width="25.10" height="12.6" rx="6.3" fill="#f47a20"/><path d="M559.61 547.05l1.35-2.7l1.35 2.7" stroke="#fff" stroke-width="0.75" fill="none" stroke-linejoin="round"/><text transform="translate(562.81 550.40) scale(0.915 1)" font-size="8.3" fill="#fff">216</text><rect x="414.90" y="575.40" width="20.40" height="12.4" rx="6.2" fill="#fbb13c"/><path d="M419.38 581.20l1.35-2.7l1.35 2.7" stroke="#fff" stroke-width="0.75" fill="none" stroke-linejoin="round"/><text transform="translate(422.58 584.55) scale(0.915 1)" font-size="8.3" fill="#fff">27</text><rect x="345.91" y="578.80" width="15.90" height="12.2" rx="6.1" fill="#fbb13c"/><path d="M350.25 586.10l1.25 2.5l1.25-2.5" stroke="#fff" stroke-width="0.75" fill="none" stroke-linejoin="round"/><text transform="translate(353.45 587.85) scale(0.915 1)" font-size="8.3" fill="#fff">8</text><rect x="381.52" y="578.80" width="15.90" height="12.2" rx="6.1" fill="#fbb13c"/><path d="M385.86 586.10l1.25 2.5l1.25-2.5" stroke="#fff" stroke-width="0.75" fill="none" stroke-linejoin="round"/><text transform="translate(389.06 587.85) scale(0.915 1)" font-size="8.3" fill="#fff">8</text><rect x="844.45" y="578.80" width="15.90" height="12.2" rx="6.1" fill="#fbb13c"/><path d="M848.79 586.10l1.25 2.5l1.25-2.5" stroke="#fff" stroke-width="0.75" fill="none" stroke-linejoin="round"/><text transform="translate(851.99 587.85) scale(0.915 1)" font-size="8.3" fill="#fff">8</text></svg>
<div class="b" style="left:2px;top:197px;width:193px;height:205px;background:#fff;border:4px solid #f98533"></div>
<div class="t" style="left:18.20px;top:213px;font-size:10.2px;line-height:15px;height:15px;color:#666;letter-spacing:-0.090px;-webkit-text-stroke:0.12px #666;">Data Visualization Options</div>
<div class="b" style="left:6.00px;top:238.00px;width:185.00px;height:1.00px;background:#efefef;border-radius:0px;"></div>
<svg class="b" style="left:15.10px;top:248.10px;" width="13.1" height="12.8" viewBox="0 0 13.1 12.8" fill="none"><g stroke="#555" stroke-width="0.9" stroke-linecap="round" stroke-linejoin="round"><rect x="0.45" y="0.45" width="12.2" height="11.9" rx="3.2"/><path d="M2.9 7.7L4.8 6L7 7.9L10.4 5.1"/></g></svg>
<div class="t" style="left:35.90px;top:247px;font-size:9.5px;line-height:15px;height:15px;color:#222;letter-spacing:0.082px;-webkit-text-stroke:0.15px #222;">Line Diagram</div>
<svg class="b" style="left:16.10px;top:280.10px;" width="11.9" height="11.5" viewBox="0 0 11.9 11.5" fill="none"><g stroke="#555" stroke-width="0.9" stroke-linecap="round"><rect x="0.45" y="0.45" width="11" height="10.6" rx="3"/><path d="M0.6 5H11.3M0.6 6.6H11.3"/><path d="M3 3.1h0.3M5.4 3.1H9.6M3 8.6h0.3M5.4 8.6H9.6" stroke="#888" stroke-width="0.7"/></g></svg>
<div class="t" style="left:37.00px;top:278px;font-size:9.5px;line-height:15px;height:15px;color:#222;letter-spacing:0.181px;-webkit-text-stroke:0.15px #222;">Table View</div>
<svg class="b" style="left:15.10px;top:311.10px;" width="13.1" height="12.7" viewBox="0 0 13.1 12.7" fill="none"><g stroke="#555" stroke-width="0.9" stroke-linecap="round"><rect x="0.45" y="0.45" width="12.2" height="11.7" rx="3.2"/><path d="M3.4 9.6V10.1M5.5 7.3V10.1M7.7 5.1V10.1"/><path d="M10 2.7V10.1" stroke="#999"/></g></svg>
<div class="t" style="left:35.90px;top:310px;font-size:9.5px;line-height:15px;height:15px;color:#222;letter-spacing:0.131px;-webkit-text-stroke:0.15px #222;">Bar Chart</div>
<svg class="b" style="left:15.10px;top:342.00px;" width="13" height="12.8" viewBox="0 0 13 12.8" fill="none"><g stroke="#555" stroke-width="0.9" stroke-linecap="round" stroke-linejoin="round"><path d="M7.7 0.55A5.95 5.95 0 0 1 12.35 5.2M12.35 7.6A5.95 5.95 0 0 1 7.7 12.25M5.3 12.25A5.95 5.95 0 0 1 0.65 7.6M0.65 5.2A5.95 5.95 0 0 1 5.3 0.55"/><path d="M6.5 0.4V3.5M6.5 9.3V12.4M0.4 6.4H3.6M9.4 6.4H12.6M5.2 0.45H7.8M5.2 12.35H7.8"/><path d="M6.5 3.5Q7.1 5.8 9.4 6.4Q7.1 7 6.5 9.3Q5.9 7 3.6 6.4Q5.9 5.8 6.5 3.5Z"/></g></svg>
<div class="t" style="left:35.90px;top:341px;font-size:9.5px;line-height:15px;height:15px;color:#222;letter-spacing:0.171px;-webkit-text-stroke:0.15px #222;">Radar Chart Stacked View</div>
<svg class="b" style="left:167.30px;top:246.75px;" width="14.7" height="14.7" viewBox="0 0 14.7 14.7" fill="none"><g stroke-linecap="round" stroke-linejoin="round"><circle cx="7.35" cy="7.35" r="6.9" stroke="#666" stroke-width="0.9"/><path d="M4.1 7.35H10.2M8.1 5.6L10.3 7.35L8.1 9.2" stroke="#777" stroke-width="1"/></g></svg>
<svg class="b" style="left:167.30px;top:309.75px;" width="14.7" height="14.7" viewBox="0 0 14.7 14.7" fill="none"><g stroke-linecap="round" stroke-linejoin="round"><circle cx="7.35" cy="7.35" r="6.9" stroke="#666" stroke-width="0.9"/><path d="M4.1 7.35H10.2M8.1 5.6L10.3 7.35L8.1 9.2" stroke="#777" stroke-width="1"/></g></svg>
<svg class="b" style="left:165.20px;top:277.30px;" width="16.8" height="16.8" viewBox="0 0 16.8 16.8" fill="none"><circle cx="8.4" cy="8.4" r="7.85" stroke="#bcbcbc" stroke-width="1.1" fill="#fff"/></svg>
<svg class="b" style="left:165.20px;top:340.50px;" width="16.8" height="16.8" viewBox="0 0 16.8 16.8" fill="none"><circle cx="8.4" cy="8.4" r="7.85" stroke="#bcbcbc" stroke-width="1.1" fill="#fff"/></svg>
<div class="t" style="left:85.40px;top:372px;font-size:9.5px;line-height:15px;height:15px;color:#222;letter-spacing:0.353px;-webkit-text-stroke:0.15px #222;">Close</div>
</div></body></html>
